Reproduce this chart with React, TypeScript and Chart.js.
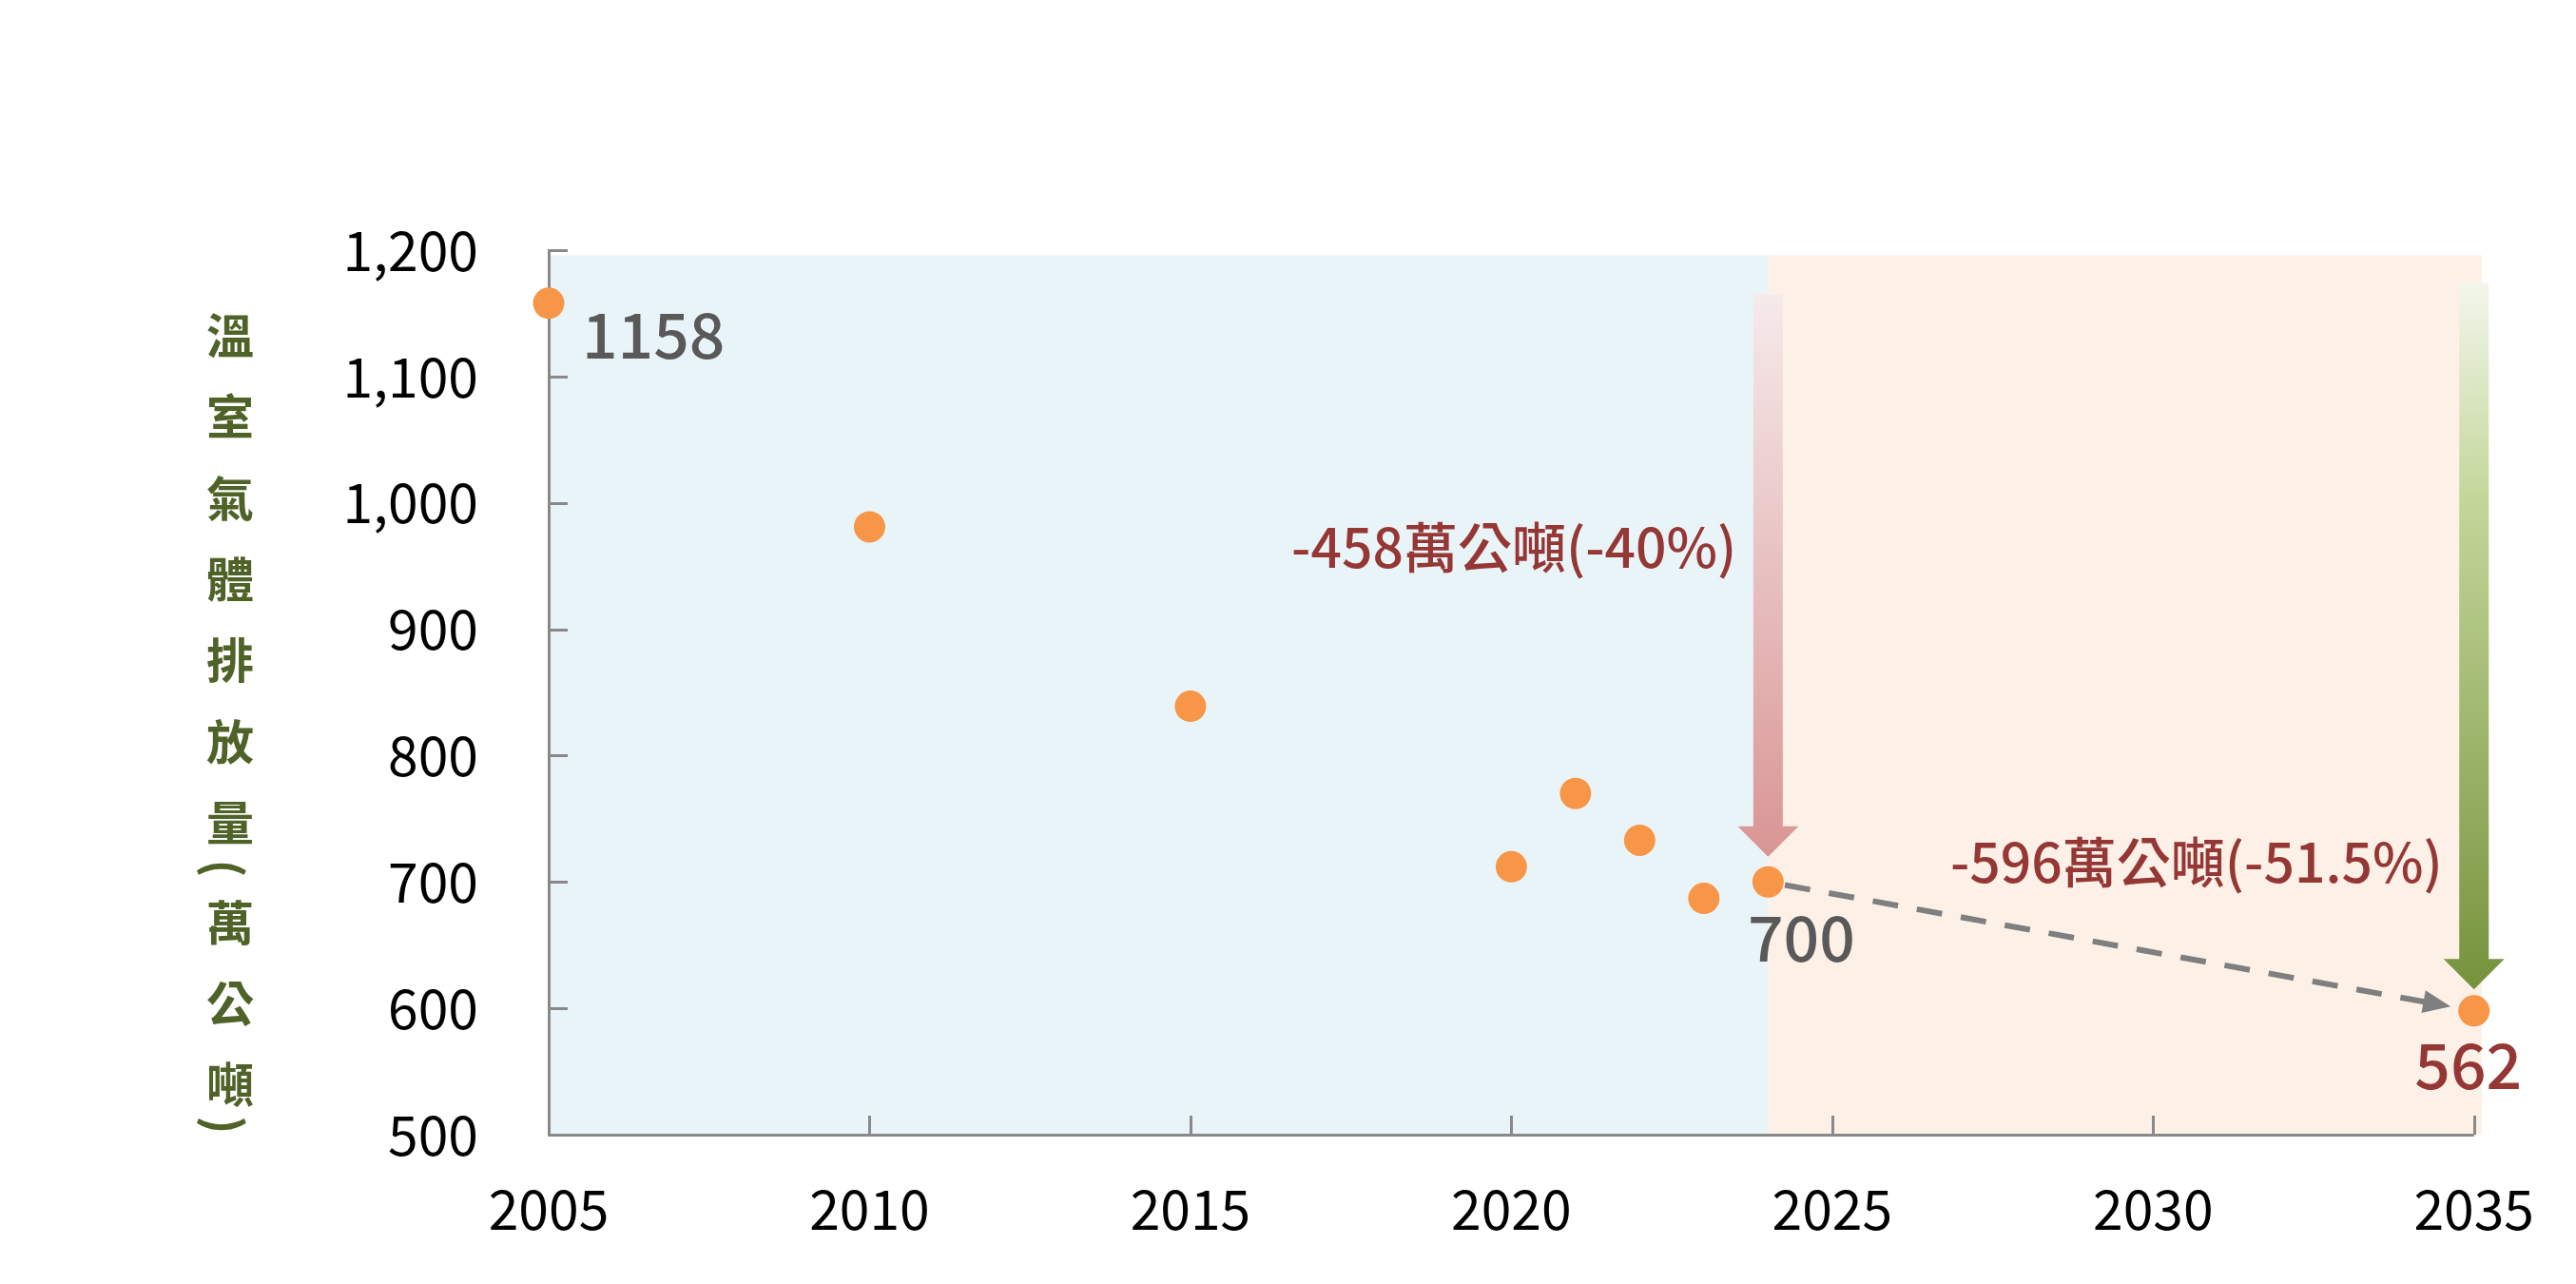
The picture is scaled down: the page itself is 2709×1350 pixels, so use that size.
import React, { useEffect, useRef } from "react";
import { Chart, registerables } from "chart.js";

Chart.register(...registerables);

// ---- data ----
const years = [2005, 2010, 2015, 2020, 2021, 2022, 2023, 2024, 2035];
const emissions = [1158, 981, 839, 712, 770, 733, 687, 700, 598];
const xTicks = [2005, 2010, 2015, 2020, 2025, 2030, 2035];
const yTicks = [500, 600, 700, 800, 900, 1000, 1100, 1200];
const yTitleChars = ["溫", "室", "氣", "體", "排", "放", "量", "(", "萬", "公", "噸", ")"];
const valueLabelYears = [2005, 2024, 2035];
const valueLabelValues = [1158, 700, 598];
const valueLabelTexts = ["1158", "700", "562"];
const reductionTexts = ["-458萬公噸(-40%)", "-596萬公噸(-51.5%)"];
const reductionYears = [2024, 2035];
const reductionFrom = [1165, 1174];
const reductionTo = [720, 615];
const reductionTextValues = [965, 716];
const trendStart = [2024, 700];
const trendEnd = [2035, 598];
const historyYears = [2005, 2024];
const targetYears = [2024, 2035.12];
const regionTopValue = 1196;

const FONT = "'Noto Sans CJK TC', 'Noto Sans', sans-serif";

const customPlugin = {
  id: "customDraw",
  beforeDraw(chart: any) {
    const { ctx, scales } = chart;
    const x = scales.x;
    const y = scales.y;
    const top = y.getPixelForValue(regionTopValue);
    const bottom = y.getPixelForValue(500);
    ctx.save();
    const h0 = x.getPixelForValue(historyYears[0]);
    const h1 = x.getPixelForValue(historyYears[1]);
    ctx.fillStyle = "#E9F4F9";
    ctx.fillRect(h0, top, h1 - h0, bottom - top);
    const t0 = x.getPixelForValue(targetYears[0]);
    const t1 = x.getPixelForValue(targetYears[1]);
    ctx.fillStyle = "#FDF0E7";
    ctx.fillRect(t0, top, t1 - t0, bottom - top);
    ctx.restore();
  },
  beforeDatasetsDraw(chart: any) {
    const { ctx, scales } = chart;
    const x = scales.x;
    const y = scales.y;
    ctx.save();
    // inward tick marks
    ctx.strokeStyle = "#898989";
    ctx.lineWidth = 3;
    const axisX = x.getPixelForValue(2005);
    const axisY = y.getPixelForValue(500);
    yTicks.forEach((v) => {
      if (v === 500) return;
      const py = Math.round(y.getPixelForValue(v)) + 0.5;
      ctx.beginPath();
      ctx.moveTo(axisX, py);
      ctx.lineTo(axisX + 20, py);
      ctx.stroke();
    });
    xTicks.forEach((v) => {
      if (v === 2005) return;
      const px = Math.round(x.getPixelForValue(v)) + 0.5;
      ctx.beginPath();
      ctx.moveTo(px, axisY);
      ctx.lineTo(px, axisY - 20);
      ctx.stroke();
    });

    // reduction arrows
    const arrowStyles = [
      { stops: [[0, "#F6EAEB"], [1, "#D99594"]] },
      { stops: [[0, "#F3F6EC"], [0.3, "#C4D79B"], [1, "#76923C"]] },
    ];
    reductionYears.forEach((yr, i) => {
      const cx = x.getPixelForValue(yr);
      const yTop = y.getPixelForValue(reductionFrom[i]);
      const yTip = y.getPixelForValue(reductionTo[i]);
      const headLen = 32;
      const shaftHalf = 15.5;
      const headHalf = 32;
      const grad = ctx.createLinearGradient(0, yTop, 0, yTip);
      arrowStyles[i].stops.forEach((s: any) => grad.addColorStop(s[0], s[1]));
      ctx.fillStyle = grad;
      ctx.beginPath();
      ctx.moveTo(cx - shaftHalf, yTop);
      ctx.lineTo(cx + shaftHalf, yTop);
      ctx.lineTo(cx + shaftHalf, yTip - headLen);
      ctx.lineTo(cx + headHalf, yTip - headLen);
      ctx.lineTo(cx, yTip);
      ctx.lineTo(cx - headHalf, yTip - headLen);
      ctx.lineTo(cx - shaftHalf, yTip - headLen);
      ctx.closePath();
      ctx.fill();
    });

    // dashed trend arrow
    const sx = x.getPixelForValue(trendStart[0]);
    const sy = y.getPixelForValue(trendStart[1]);
    const ex = x.getPixelForValue(trendEnd[0]);
    const ey = y.getPixelForValue(trendEnd[1]);
    const len = Math.hypot(ex - sx, ey - sy);
    const ux = (ex - sx) / len;
    const uy = (ey - sy) / len;
    const ax = sx + ux * 18;
    const ay = sy + uy * 18;
    const tipX = ex - ux * 25;
    const tipY = ey - uy * 25;
    const headLen = 29;
    const baseX = tipX - ux * headLen;
    const baseY = tipY - uy * headLen;
    ctx.strokeStyle = "#7F7F7F";
    ctx.lineWidth = 6;
    ctx.setLineDash([27, 20]);
    ctx.beginPath();
    ctx.moveTo(ax, ay);
    ctx.lineTo(baseX + ux * 4, baseY + uy * 4);
    ctx.stroke();
    ctx.setLineDash([]);
    ctx.fillStyle = "#7F7F7F";
    ctx.beginPath();
    ctx.moveTo(tipX, tipY);
    ctx.lineTo(baseX - uy * 12, baseY + ux * 12);
    ctx.lineTo(baseX + uy * 12, baseY - ux * 12);
    ctx.closePath();
    ctx.fill();
    ctx.restore();
  },
  afterDatasetsDraw(chart: any) {
    const { ctx, scales } = chart;
    const x = scales.x;
    const y = scales.y;
    ctx.save();
    // value labels
    const labelStyles = [
      { dx: 35, dy: 33, align: "left", color: "#595959" },
      { dx: 35, dy: 59, align: "center", color: "#595959" },
      { dx: -6, dy: 57, align: "center", color: "#953735" },
    ];
    ctx.font = `500 66px ${FONT}`;
    ctx.textBaseline = "middle";
    valueLabelTexts.forEach((t, i) => {
      const st = labelStyles[i];
      const px = x.getPixelForValue(valueLabelYears[i]);
      const py = y.getPixelForValue(valueLabelValues[i]);
      ctx.fillStyle = st.color;
      ctx.textAlign = st.align;
      ctx.fillText(t, px + st.dx, py + st.dy);
    });
    // reduction texts
    ctx.font = `500 57px ${FONT}`;
    ctx.fillStyle = "#953735";
    ctx.textAlign = "right";
    reductionTexts.forEach((t, i) => {
      const px = x.getPixelForValue(reductionYears[i]) - 33;
      const py = y.getPixelForValue(reductionTextValues[i]);
      ctx.fillText(t, px, py);
    });
    ctx.restore();
  },
  afterDraw(chart: any) {
    const { ctx } = chart;
    ctx.save();
    const centers = [353, 438, 524, 609, 694, 780, 865, 913, 970, 1055, 1140, 1183];
    ctx.fillStyle = "#4F6228";
    ctx.font = `bold 50px ${FONT}`;
    ctx.textAlign = "center";
    ctx.textBaseline = "middle";
    yTitleChars.forEach((c, i) => {
      if (c === "(" || c === ")") {
        ctx.save();
        ctx.translate(236, centers[i]);
        ctx.rotate(Math.PI / 2);
        ctx.fillText(c, 0, 0);
        ctx.restore();
      } else {
        ctx.fillText(c, 242, centers[i]);
      }
    });
    ctx.restore();
  },
};

export default function App() {
  const ref = useRef<HTMLCanvasElement | null>(null);
  useEffect(() => {
    const prevMargin = document.body.style.margin;
    document.body.style.margin = "0";
    const canvas = ref.current!;
    const chart = new Chart(canvas, {
      type: "scatter",
      data: {
        datasets: [
          {
            label: "溫室氣體排放量",
            data: years.map((yr, i) => ({ x: yr, y: emissions[i] })),
            backgroundColor: "#F79646",
            borderWidth: 0,
            pointRadius: 16.5,
            pointHoverRadius: 16.5,
            clip: false as any,
          },
        ],
      },
      options: {
        animation: false,
        responsive: false,
        devicePixelRatio: 1,
        events: [],
        layout: { padding: { left: 0, top: 263, right: 104, bottom: 0 } },
        plugins: {
          legend: { display: false },
          tooltip: { enabled: false },
          title: { display: false },
        },
        scales: {
          x: {
            type: "linear",
            min: 2005,
            max: 2035,
            afterBuildTicks: (scale: any) => {
              scale.ticks = xTicks.map((v) => ({ value: v }));
            },
            afterFit: (scale: any) => {
              scale.height = 157;
            },
            grid: { display: false, drawTicks: false },
            border: { display: true, color: "#898989", width: 3 },
            ticks: {
              color: "#000000",
              padding: 44,
              maxRotation: 0,
              autoSkip: false,
              font: { family: FONT, size: 57 },
              callback: (v: any) => String(v),
            },
          },
          y: {
            type: "linear",
            min: 500,
            max: 1200,
            afterBuildTicks: (scale: any) => {
              scale.ticks = yTicks.map((v) => ({ value: v }));
            },
            afterFit: (scale: any) => {
              scale.width = 577;
            },
            grid: { display: false, drawTicks: false },
            border: { display: true, color: "#898989", width: 3 },
            ticks: {
              color: "#000000",
              padding: 74,
              autoSkip: false,
              font: { family: FONT, size: 57 },
              callback: (v: any) => Number(v).toLocaleString("en-US"),
            },
          },
        },
      },
      plugins: [customPlugin as any],
    });
    return () => {
      chart.destroy();
      document.body.style.margin = prevMargin;
    };
  }, []);
  return (
    <div style={{ position: "fixed", left: 0, top: 0, width: 2709, height: 1350, background: "#ffffff" }}>
      <canvas ref={ref} width={2709} height={1350} style={{ width: 2709, height: 1350, display: "block" }} />
    </div>
  );
}
